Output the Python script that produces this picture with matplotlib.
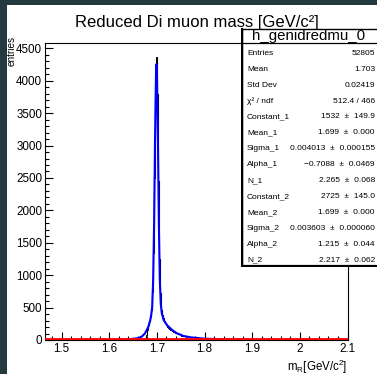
import matplotlib
matplotlib.use("Agg")
import matplotlib.pyplot as plt
import numpy as np
from matplotlib.patches import Rectangle
from matplotlib.ticker import MultipleLocator

plt.rcParams["font.family"] = ["Liberation Sans", "DejaVu Sans"]
plt.rcParams["mathtext.fontset"] = "custom"
plt.rcParams["mathtext.rm"] = "Liberation Sans"
plt.rcParams["mathtext.it"] = "Liberation Sans:italic"

W, H = 377, 374

# data histogram (bin centres, 0.002 wide)
hist_centers = [1.679, 1.681, 1.683, 1.685, 1.687, 1.689, 1.691, 1.693, 1.695,
                1.697, 1.699, 1.701, 1.703, 1.705, 1.707, 1.709, 1.711, 1.713,
                1.715, 1.717, 1.719, 1.721, 1.723, 1.725, 1.727, 1.729, 1.731,
                1.733, 1.735, 1.737, 1.739, 1.741, 1.745, 1.751, 1.761]
hist_counts = [80, 150, 230, 290, 360, 470, 740, 1350, 2500,
               3750, 4365, 3800, 2450, 1250, 720, 470, 390, 335,
               295, 265, 245, 228, 205, 188, 172, 162, 150,
               140, 130, 120, 112, 105, 90, 65, 40]

# fit curve (double crystal ball) points
fit_x = [1.465, 1.600, 1.640, 1.660, 1.668, 1.675, 1.682, 1.686, 1.688, 1.690,
         1.692, 1.694, 1.696, 1.698, 1.699, 1.700, 1.702, 1.704, 1.706, 1.708,
         1.710, 1.714, 1.721, 1.732, 1.742, 1.756, 1.771, 1.800, 1.850, 1.950, 2.100]
fit_y = [0, 3, 10, 28, 51, 103, 205, 308, 390, 513,
         925, 1790, 3117, 4112, 4257, 4112, 3117, 1790, 925, 560,
         420, 308, 231, 154, 103, 62, 41, 20, 8, 3, 1]

bkg_x = [1.465, 2.100]
bkg_y = [20, 20]

stat_labels = ["Entries", "Mean", "Std Dev", "χ² / ndf", "Constant_1", "Mean_1",
               "Sigma_1", "Alpha_1", "N_1", "Constant_2", "Mean_2", "Sigma_2",
               "Alpha_2", "N_2"]
stat_values = ["52805", "1.703", "0.02419", "512.4 / 466", "1532 ± 149.9",
               "1.699 ± 0.000", "0.004013 ± 0.000155", "\u22120.7088 ± 0.0469",
               "2.265 ± 0.068", "2725 ± 145.0", "1.699 ± 0.000",
               "0.003603 ± 0.000060", "1.215 ± 0.044", "2.217 ± 0.062"]

fig = plt.figure(figsize=(W / 100, H / 100), dpi=100)
fig.patch.set_facecolor("#233a3f")
fig.patches.append(Rectangle((7 / W, 0), 1, 1 - 5 / H, transform=fig.transFigure,
                             facecolor="white", edgecolor="none", zorder=-10))

ax_l, ax_r, ax_t, ax_b = 45, 347.5, 42.7, 340
ax = fig.add_axes([ax_l / W, 1 - ax_b / H, (ax_r - ax_l) / W, (ax_b - ax_t) / H])

half = 0.001
edges = [c - half for c in hist_centers] + [hist_centers[-1] + half]
ax.stairs(hist_counts, edges, color="black", lw=0.8, zorder=2)
ax.plot(fit_x, fit_y, color="#0000ff", lw=1.5, zorder=3)
ax.plot(bkg_x, bkg_y, color="#ff0000", lw=2.0, zorder=4)

ax.set_xlim(1.465, 2.1)
ax.set_ylim(0, 4587)
ax.xaxis.set_major_locator(MultipleLocator(0.1))
ax.xaxis.set_minor_locator(MultipleLocator(0.02))
ax.yaxis.set_major_locator(MultipleLocator(500))
ax.yaxis.set_minor_locator(MultipleLocator(100))
ax.xaxis.set_major_formatter(matplotlib.ticker.FuncFormatter(lambda v, p: f"{v:g}"))
ax.tick_params(which="both", direction="in", top=False, right=False,
               labelsize=8.4, width=0.8)
ax.tick_params(which="major", length=5.5, pad=2)
ax.tick_params(which="minor", length=2.8)
ax.tick_params(axis="x", pad=2.5)
for s in ax.spines.values():
    s.set_linewidth(0.8)

fig.text(196.5 / W, 1 - 26.5 / H, "Reduced Di muon mass [GeV/c²]",
         ha="center", va="baseline", fontsize=12)
fig.text(ax_r / W, 1 - 370.5 / H, r"m$_{\mathrm{R}}$[GeV/c$^{2}$]",
         ha="right", va="baseline", fontsize=8.3)
fig.text(12 / W, 1 - 36 / H, "entries", rotation=90, ha="center", va="top",
         fontsize=7.2)

# stats box, drawn in pixel coordinates
sb_l, sb_t, sb_b = 241, 28, 267
sb = fig.add_axes([sb_l / W, 1 - sb_b / H, (W - sb_l) / W, (sb_b - sb_t) / H])
sb.set_xlim(sb_l, W)
sb.set_ylim(sb_b, sb_t)
sb.axis("off")
sb.add_patch(Rectangle((sb_l + 1, sb_t + 1), W, sb_b - sb_t - 2.5,
                       facecolor="white", edgecolor="black", lw=1.0))
sb.plot([sb_l + 1, sb_l + 1], [sb_t + 1, sb_b - 1.5], color="black", lw=1.6)
sb.plot([sb_l + 1, W], [sb_b - 1.5, sb_b - 1.5], color="black", lw=1.6)
sb.plot([sb_l + 1, W], [43, 43], color="black", lw=0.9)
sb.text(309, 36, "h_genidredmu_0", ha="center", va="center", fontsize=10.8)
for i, (lab, val) in enumerate(zip(stat_labels, stat_values)):
    y = 53.3 + 15.9 * i
    sb.text(247, y, lab, ha="left", va="center", fontsize=6.0)
    sb.text(375, y, val.replace(" ± ", "  ±  "), ha="right", va="center",
            fontsize=6.0)

fig.savefig("out.png", dpi=100)
